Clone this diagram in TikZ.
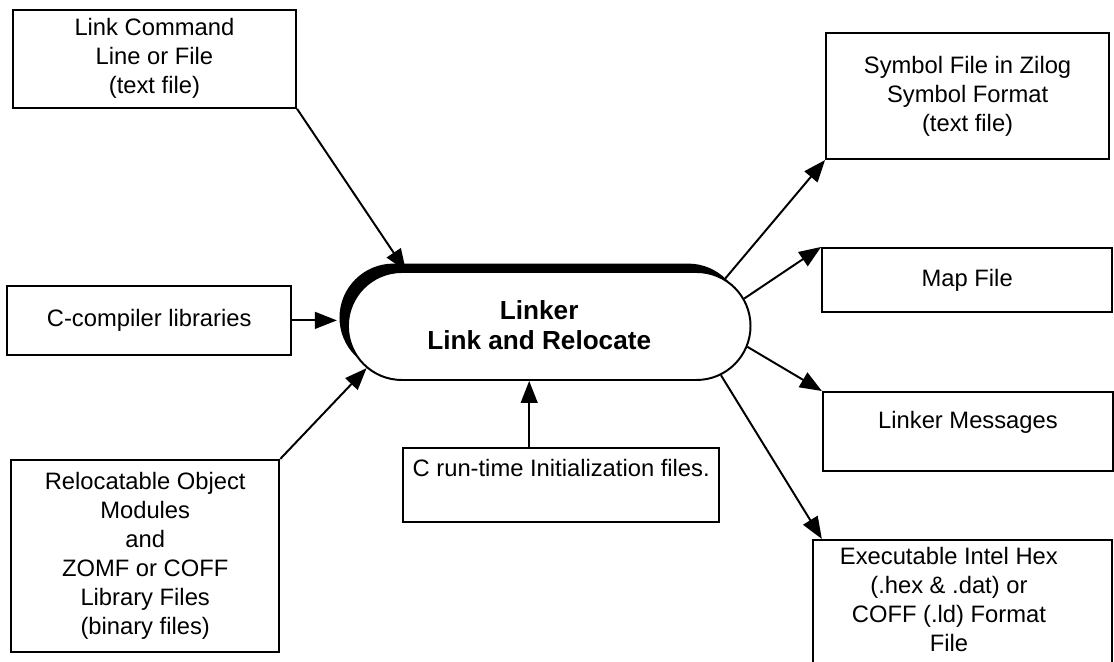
\documentclass[tikz,border=0pt]{standalone}
\usepackage{fontspec}
\setmainfont{Liberation Sans}
\usetikzlibrary{arrows.meta,shapes.misc,shadows}

\tikzset{
  filebox/.style={draw, line width=1.5pt, align=center, font=\fontsize{16.9}{20.6}\selectfont},
  topbox/.style={draw, line width=1.5pt, inner xsep=0pt, font=\fontsize{16.9}{20.6}\selectfont},
  flow/.style={line width=1.4pt, -{Triangle[length=0.55cm,width=0.42cm]}}
}

\begin{document}
\begin{tikzpicture}
        \useasboundingbox (0,0) rectangle (27.85,16.55);
        % Linker in the middle
        \node[rounded rectangle, draw, line width=1.4pt, fill=white, minimum width=10.3cm, minimum height=2.7cm,
              drop shadow={shadow xshift=-0.21cm, shadow yshift=0.21cm, fill=black, opacity=1}] (linker) at (13.73,8.4) {};
        \node[font=\bfseries\fontsize{18.6}{21.3}\selectfont, align=center] (linkertext) at (13.48,8.42) {Linker\\Link and Relocate};
        % Inputs
        \node[filebox, minimum width=7.08cm, minimum height=2.45cm] (cmd) at (3.86,15.08) {Link Command\\Line or File\\(text file)};
        \node[filebox, minimum width=7.1cm, minimum height=1.73cm] (clib) at (3.73,8.54) {C-compiler libraries};
        \node[filebox, minimum width=6.7cm, minimum height=4.8cm] (objs) at (3.63,2.65) {Relocatable Object\\Modules\\and\\ZOMF or COFF\\Library Files\\(binary files)};
        \node[topbox, inner ysep=0.28cm] (crt) at (14.03,4.43) {\parbox[c][1.29cm][t]{7.9cm}{\centering C run-time Initialization files.}};
        % Outputs
        \node[filebox, minimum width=7.075cm, minimum height=3.15cm] (sym) at (24.19,14.15) {Symbol File in Zilog\\Symbol Format\\(text file)};
        \node[filebox, minimum width=7.25cm, minimum height=1.6cm] (map) at (24.18,9.55) {Map File};
        \node[topbox, inner ysep=0.47cm] (msgs) at (24.2,5.76) {\parbox[c][1.035cm][t]{7.25cm}{\centering Linker Messages}};
        \node[topbox, inner ysep=0.18cm] (hex) at (24.06,1.3) {\parbox[c][3.14cm][t]{6.8cm}{\centering Executable Intel Hex\\(.hex \& .dat) or\\COFF (.ld) Format\\File}\kern0.675cm\relax};
        % Arrows in
        \draw[flow] (cmd.south east) -- (linker.159);
        \draw[flow, shorten >=0.25cm] (clib.east) -- (clib.east -| linker.west);
        \draw[flow] (objs.north east) -- (linker.193);
        \draw[flow] (linker.250 |- crt.north) -- (linker.250);
        % Arrows out
        \draw[flow] (linker.15) -- (sym.south west);
        \draw[flow] (linker.8) -- (map.north west);
        \draw[flow] (linker.-6) -- (msgs.north west);
        \draw[flow] (linker.-16) -- ([xshift=0.25cm]hex.north west);
\end{tikzpicture}
\end{document}
